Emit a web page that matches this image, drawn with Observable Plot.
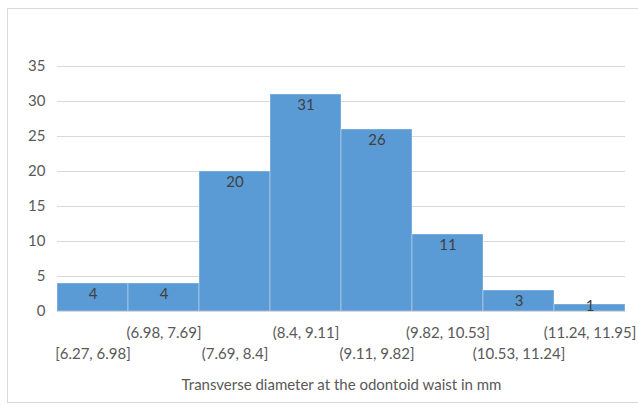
<!DOCTYPE html>
<html>
<head>
<meta charset="utf-8">
<script src="https://cdn.jsdelivr.net/npm/d3@7"></script>
<script src="https://cdn.jsdelivr.net/npm/@observablehq/plot@0.6"></script>
<style>
  html, body { margin: 0; padding: 0; background: #fff; }
  #wrap { position: relative; width: 638px; height: 405px; overflow: hidden; }
  #border { position: absolute; left: 7px; top: 8px; width: 640px; height: 395px; border: 1px solid #d9d9d9; box-sizing: border-box; }
  #chart { position: absolute; left: 0; top: 0; }
</style>
</head>
<body>
<div id="wrap"><div id="border"></div><div id="chart"></div></div>
<script>
const bins = ["[6.27, 6.98]", "(6.98, 7.69]", "(7.69, 8.4]", "(8.4, 9.11]", "(9.11, 9.82]", "(9.82, 10.53]", "(10.53, 11.24]", "(11.24, 11.95]"];
const counts = [4, 4, 20, 31, 26, 11, 3, 1];
const yTicks = [0, 5, 10, 15, 20, 25, 30, 35];
const xTitle = "Transverse diameter at the odontoid waist in mm";

const data = bins.map((b, i) => ({bin: b, count: counts[i], i}));
const font = "Lato, 'Open Sans', sans-serif";
const fs = 15;

const plot = Plot.plot({
  width: 638,
  height: 405,
  marginLeft: 57,
  marginRight: 13,
  marginTop: 66,
  marginBottom: 94,
  style: {fontFamily: font, fontSize: fs + "px", background: "transparent"},
  x: {type: "band", domain: bins, padding: 0, axis: null},
  y: {domain: [0, 35], axis: null},
  marks: [
    Plot.gridY(yTicks.filter(d => d > 0), {stroke: "#d9d9d9", strokeOpacity: 1, strokeWidth: 1}),
    Plot.barY(data, {x: "bin", y: "count", fill: "#5b9bd5", stroke: "#ffffff", strokeOpacity: 0.35, strokeWidth: 1}),
    Plot.ruleY([0], {stroke: "#d9d9d9", strokeWidth: 1}),
    Plot.axisY(yTicks, {tickSize: 0, tickPadding: 12, fontSize: fs, color: "#595959", label: null}),
    Plot.text(data.filter(d => d.count >= 2), {x: "bin", y: "count", text: d => String(d.count), dy: 11, fill: "#404040", fontSize: fs}),
    Plot.text(data.filter(d => d.count < 2), {x: "bin", y: "count", text: d => String(d.count), dy: 2, fill: "#404040", fontSize: fs}),
    Plot.text(data.filter(d => d.i % 2 === 1), {x: "bin", text: "bin", frameAnchor: "bottom", dy: 26, fill: "#595959", fontSize: fs}),
    Plot.text(data.filter(d => d.i % 2 === 0), {x: "bin", text: "bin", frameAnchor: "bottom", dy: 47, fill: "#595959", fontSize: fs}),
    Plot.text([xTitle], {text: d => d, frameAnchor: "bottom", dy: 78, fill: "#595959", fontSize: fs})
  ]
});
document.getElementById("chart").appendChild(plot);
</script>
</body>
</html>
